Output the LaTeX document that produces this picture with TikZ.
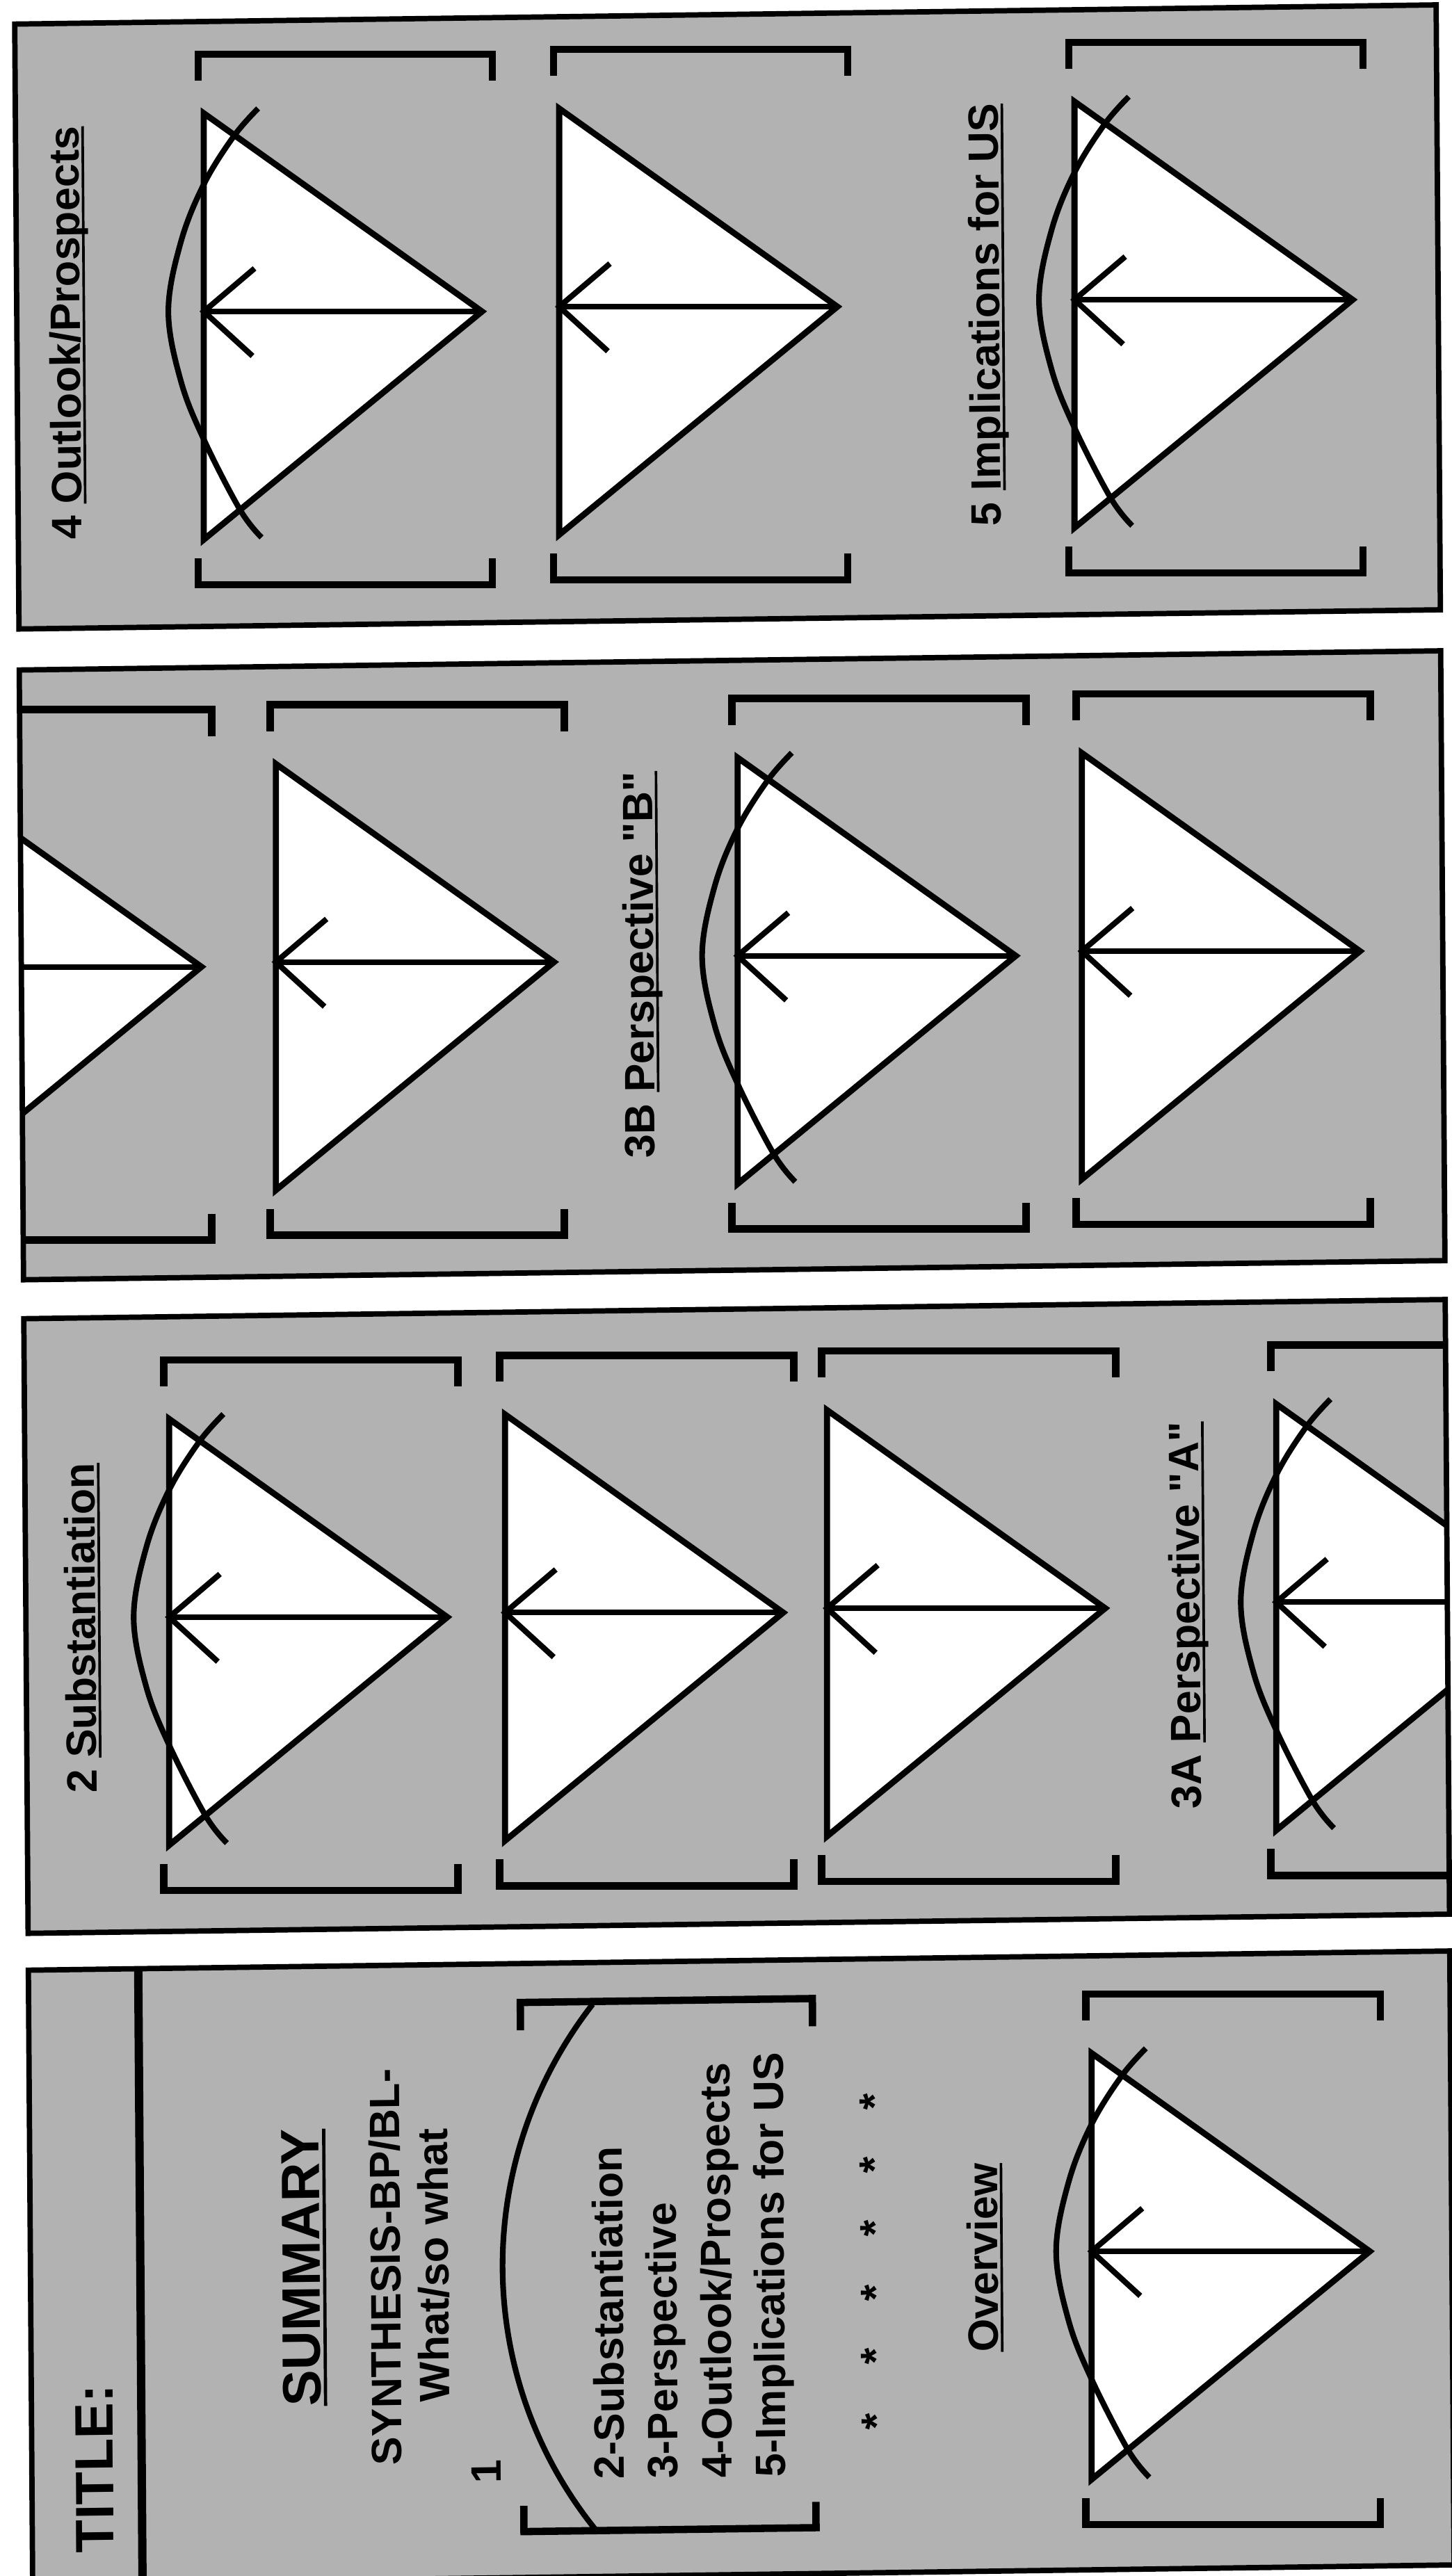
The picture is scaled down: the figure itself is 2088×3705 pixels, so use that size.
\documentclass[tikz,border=0pt]{standalone}
\usepackage{fontspec}
\newfontfamily\lsans{Liberation Sans}
\newcommand\myul[1]{\setbox0\hbox{#1}\rlap{\rule[-0.12em]{\wd0}{0.06em}}\box0}
\begin{document}
\begin{tikzpicture}[x=0.01cm,y=-0.01cm,
  panelfill/.style={fill=black!30},
  panelborder/.style={draw=black, line width=2.2pt},
  brkline/.style={line width=3pt, line cap=butt, line join=miter},
  triline/.style={line width=2.5pt, line join=miter},
  arrline/.style={line width=2.3pt},
  arcline/.style={line width=2.3pt},
  sepline/.style={line width=3.4pt},
  lbl/.style={rotate=90, anchor=base, transform shape, inner sep=0pt,
    font=\lsans\bfseries\fontsize{17.36}{20}\selectfont},
  biglbl/.style={lbl, font=\lsans\bfseries\fontsize{22.1}{26}\selectfont},
  brackets/.pic={
    \draw[brkline] (-8,-332) -- (-8,-370) -- (415,-370) -- (415,-332);
    \draw[brkline] (-8,355) -- (-8,393) -- (415,393) -- (415,355);
  },
  arrowtri/.pic={
    \filldraw[triline,fill=white] (0,-285) -- (400,0) -- (0,328) -- cycle;
    \draw[arrline] (400,0) -- (0,0);
    \draw[arrline] (73,-62) -- (0,0) -- (70,64);
  },
  lens/.pic={
    \draw[arcline] plot[smooth,tension=0.6] coordinates {(78,-292) (43,-252) (0,-183) (-33,-100) (-51,0) (-33,100) (0,184) (52,285) (83,325)};
  }
]
\useasboundingbox (0,0) rectangle (2088,3705);
\fill[white] (0,0) rectangle (2088,3705);
\begin{scope}[shift={(1044,1852)}, cm={1,0.0135,-0.007,1,(0,0)}, shift={(-1044,-1852)}]

% ---------- Panel 4 (top) ----------
\fill[panelfill] (34,21) rectangle (2078,891);
\begin{scope}
  \clip (34,21) rectangle (2078,891);
  \pic at (303,438) {brackets}; \pic at (303,438) {arrowtri}; \pic at (303,438) {lens};
  \pic at (814,438) {brackets}; \pic at (814,438) {arrowtri};
  \pic at (1555,438) {brackets}; \pic at (1555,438) {arrowtri}; \pic at (1555,438) {lens};
\end{scope}
\draw[panelborder] (34,21) rectangle (2078,891);
\node[lbl] (t4) at (125,466) {4 \myul{Outlook/Prospects}};
\node[lbl] (t5) at (1447,458) {5 \myul{Implications for US}};

% ---------- Panel 3 ----------
\fill[panelfill] (34,950) rectangle (2078,1827);
\begin{scope}
  \clip (34,950) rectangle (2078,1827);
  \pic at (-107,1375) {brackets}; \pic at (-107,1375) {arrowtri};
  \pic at (400,1375) {brackets}; \pic at (400,1375) {arrowtri};
  \pic at (1064,1375) {brackets}; \pic at (1064,1375) {arrowtri}; \pic at (1064,1375) {lens};
  \pic at (1559,1375) {brackets}; \pic at (1559,1375) {arrowtri};
\end{scope}
\draw[panelborder] (34,950) rectangle (2078,1827);
\node[lbl] (t3b) at (943,1386) {3B \myul{Perspective "B"}};

% ---------- Panel 2 ----------
\fill[panelfill] (34,1883) rectangle (2078,2767);
\begin{scope}
  \clip (34,1883) rectangle (2078,2767);
  \pic at (240,2315) {brackets}; \pic at (240,2315) {arrowtri}; \pic at (240,2315) {lens};
  \pic at (723,2315) {brackets}; \pic at (723,2315) {arrowtri};
  \pic at (1186,2315) {brackets}; \pic at (1186,2315) {arrowtri};
  \pic at (1832,2315) {brackets}; \pic at (1832,2315) {arrowtri}; \pic at (1832,2315) {lens};
\end{scope}
\draw[panelborder] (34,1883) rectangle (2078,2767);
\node[lbl] (t2) at (134,2329) {2 \myul{Substantiation}};
\node[lbl] (t3a) at (1722,2332) {3A \myul{Perspective "A"}};

% ---------- Panel 1 (bottom) ----------
\fill[panelfill] (34,2820) rectangle (2078,3703);
\begin{scope}
  \clip (34,2820) rectangle (2078,3703);
  \draw[brkline] (741,2916) -- (741,2876) -- (1161,2876) -- (1161,2916);
  \draw[brkline] (741,3600) -- (741,3637) -- (1161,3637) -- (1161,3600);
  \draw[arcline] (845,2880) arc[start angle=218.5, end angle=141.5, radius=608];
  \pic at (1560,3245) {brackets}; \pic at (1560,3245) {arrowtri}; \pic at (1560,3245) {lens};
\end{scope}
\draw[sepline] (192,2820) -- (192,3703);
\draw[panelborder] (34,2820) rectangle (2078,3703);
\node[biglbl, anchor=base west] (ttl) at (151,3660) {TITLE:};
\node[biglbl] (sum) at (450,3253) {\myul{SUMMARY}};
\node[lbl] (syn) at (566,3254) {SYNTHESIS-BP/BL-};
\node[lbl] (wsw) at (635,3252) {What/so what};
\node[lbl] (one) at (708,3550) {1};
\node[lbl, anchor=base west] (l2) at (886,3564) {2-Substantiation};
\node[lbl, anchor=base west] (l3) at (963,3564) {3-Perspective};
\node[lbl, anchor=base west] (l4) at (1041,3564) {4-Outlook/Prospects};
\node[lbl, anchor=base west] (l5) at (1118,3564) {5-Implications for US};
\node[lbl] (s1) at (1270,3026) {*};
\node[lbl] (s2) at (1270,3117) {*};
\node[lbl] (s3) at (1270,3208) {*};
\node[lbl] (s4) at (1270,3301) {*};
\node[lbl] (s5) at (1270,3392) {*};
\node[lbl] (s6) at (1270,3486) {*};
\node[lbl] (ov) at (1425,3252) {\myul{Overview}};
\end{scope}
\end{tikzpicture}
\end{document}
